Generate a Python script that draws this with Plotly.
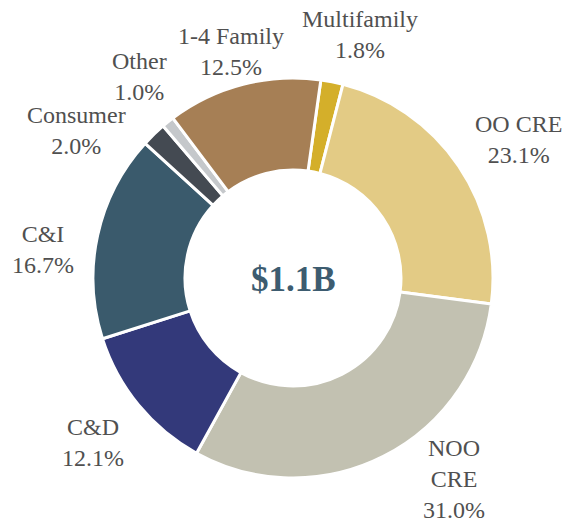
import plotly.graph_objects as go

labels = ["Multifamily", "OO CRE", "NOO<br>CRE", "C&D", "C&I", "Consumer", "Other", "1-4 Family"]
values = [1.8, 23.1, 31.0, 12.1, 16.7, 2.0, 1.0, 12.5]
colors = ["#D4AF2A", "#E3CB85", "#C2C1B1", "#33397A", "#3A5A6C", "#444A52", "#C5C8CB", "#A67F55"]
center_text = "$1.1B"

W, H = 568, 525
# label block centres (pixels) for outside labels
label_pos = [(360, 35), (518, 139), (454, 479), (93, 442), (43, 249), (76, 131), (139, 76), (231, 51)]

fig = go.Figure(go.Pie(
    labels=labels,
    values=values,
    sort=False,
    direction="clockwise",
    rotation=8,
    hole=0.54,
    marker=dict(colors=colors, line=dict(color="white", width=3)),
    textinfo="none",
    hoverinfo="label+value",
    showlegend=False,
    domain=dict(x=[93 / W, 493 / W], y=[1 - 478 / H, 1 - 78 / H]),
))

for lab, val, (px, py) in zip(labels, values, label_pos):
    fig.add_annotation(text=f"{lab}<br>{val:.1f}%", x=px / W, y=1 - py / H,
                       xref="paper", yref="paper", xanchor="center", yanchor="middle",
                       showarrow=False, align="center",
                       font=dict(family="Liberation Serif", size=24, color="#505050"))

fig.add_annotation(text=f"<b>{center_text}</b>", x=293 / W, y=1 - 279 / H,
                   xref="paper", yref="paper", xanchor="center", yanchor="middle",
                   showarrow=False,
                   font=dict(family="Liberation Serif", size=35, color="#3D5C70"))
fig.update_layout(width=W, height=H, margin=dict(l=0, r=0, t=0, b=0),
                  paper_bgcolor="white", plot_bgcolor="white")
fig.write_html("out.html", config={"displayModeBar": False},
               post_script="document.body.style.margin='0';")
